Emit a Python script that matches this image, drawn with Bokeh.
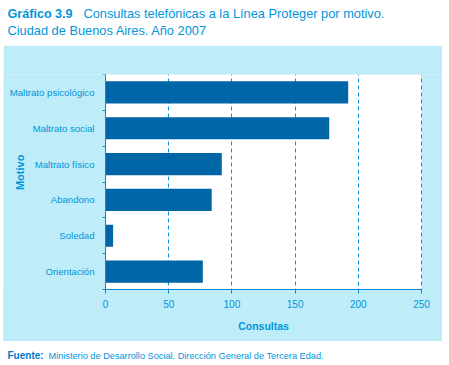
from bokeh.plotting import figure
from bokeh.models import (Range1d, FixedTicker, Label, ColumnDataSource,
                          BoxAnnotation, Grid)
from bokeh.core.properties import value
from bokeh.embed import file_html
from bokeh.resources import INLINE

# ---- data ----
motivos = ["Orientación", "Soledad", "Abandono", "Maltrato físico",
           "Maltrato social", "Maltrato psicológico"]
consultas = [77, 6, 84, 92, 177, 192]
x_ticks = [0, 50, 100, 150, 200, 250]
title_bold = "Gráfico 3.9"
title_rest = "Consultas telefónicas a la Línea Proteger por motivo."
title_line2 = "Ciudad de Buenos Aires. Año 2007"
source_bold = "Fuente:"
source_rest = "Ministerio de Desarrollo Social. Dirección General de Tercera Edad."

FONT = "Liberation Sans"
TXT = "#0096DB"
BAR = "#0066A8"
PANEL = "#BEECF8"
AXIS = "#0A8AD0"

W = 449


def text_fig(h):
    fg = figure(width=W, height=h, output_backend="svg", toolbar_location=None,
                x_range=Range1d(0, W), y_range=Range1d(h, 0),
                min_border=0, min_border_left=0, min_border_right=0,
                min_border_top=0, min_border_bottom=0)
    fg.axis.visible = False
    fg.grid.visible = False
    fg.outline_line_color = None
    fg.background_fill_color = "white"
    fg.border_fill_color = "white"
    return fg


# ---- title figure ----
TH = 45
t = text_fig(TH)
t.text(x=[7], y=[13], text=[title_bold], text_font=value(FONT),
       text_font_size="12.6px", text_font_style="bold", text_color=TXT,
       text_baseline="middle")
t.text(x=[83], y=[13], text=[title_rest], text_font=value(FONT),
       text_font_size="12.8px", text_color=TXT, text_baseline="middle")
t.text(x=[7], y=[30], text=[title_line2], text_font=value(FONT),
       text_font_size="12.8px", text_color=TXT, text_baseline="middle")

# ---- main panel ----
PH = 296
n = len(motivos)
ypos = [i + 0.5 for i in range(n)]
src = ColumnDataSource(dict(y=ypos, v=consultas, m=motivos))

XMAX = 250
X0 = 80.7   # room left of zero for the category labels (frame extends there)
XR = 16.6   # room right of the last value
Y0 = 1.451  # room below zero for the value axis and its title

p = figure(width=439, height=PH, output_backend="svg", toolbar_location=None,
           x_range=Range1d(-X0, XMAX + XR), y_range=Range1d(-Y0, n),
           min_border_left=0, min_border_right=0,
           min_border_top=29, min_border_bottom=0)
p.margin = (0, 0, 0, 3)
p.border_fill_color = PANEL
p.background_fill_color = PANEL
p.outline_line_color = None
p.xgrid.visible = False
p.ygrid.visible = False

# white plotting area
p.add_layout(BoxAnnotation(left=0, right=XMAX, bottom=0, top=n,
                           fill_color="white", fill_alpha=1,
                           line_color=None, level="underlay"))

# dashed vertical grid
p.add_layout(Grid(dimension=0, ticker=FixedTicker(ticks=x_ticks[1:]),
                  grid_line_color="#0A90E0", grid_line_dash="4 3",
                  grid_line_width=1))

# blue panel below the plotting area (hides the grid there)
p.add_layout(BoxAnnotation(left=-3 * X0, right=3 * XMAX, bottom=-3 * Y0, top=0,
                           fill_color=PANEL, fill_alpha=1,
                           line_color=None, level="underlay"))

p.hbar(y="y", right="v", left=0, height=0.62, source=src,
       fill_color=BAR, line_color=None)

# x axis at y = 0
p.xaxis.fixed_location = 0
p.xaxis.ticker = FixedTicker(ticks=x_ticks)
p.xaxis.bounds = (0, XMAX)
p.xaxis.axis_line_color = AXIS
p.xaxis.major_tick_line_color = AXIS
p.xaxis.major_tick_out = 4
p.xaxis.major_tick_in = 0
p.xaxis.minor_tick_line_color = None
p.xaxis.major_label_text_font = FONT
p.xaxis.major_label_text_font_size = "10px"
p.xaxis.major_label_text_color = TXT
p.xaxis.major_label_standoff = 6

# y axis at x = 0: labels at centers, ticks at boundaries
p.yaxis.fixed_location = 0
p.yaxis.bounds = (0, n)
p.yaxis.ticker = FixedTicker(ticks=ypos, minor_ticks=list(range(n + 1)))
p.yaxis.major_label_overrides = {yv: m for yv, m in zip(ypos, motivos)}
p.yaxis.axis_line_color = AXIS
p.yaxis.major_tick_line_color = None
p.yaxis.major_tick_out = 0
p.yaxis.major_tick_in = 0
p.yaxis.minor_tick_line_color = AXIS
p.yaxis.minor_tick_out = 3
p.yaxis.minor_tick_in = 0
p.yaxis.major_label_text_font = FONT
p.yaxis.major_label_text_font_size = "9.6px"
p.yaxis.major_label_text_color = TXT
p.yaxis.major_label_standoff = 8

# axis titles
p.add_layout(Label(x=XMAX / 2, y=-1.03, text="Consultas",
                   text_font=FONT, text_font_size="10.5px",
                   text_font_style="bold", text_color=TXT,
                   text_align="center", text_baseline="middle"))
p.add_layout(Label(x=-68, y=3.27, text="Motivo", angle=1.5708,
                   text_font=FONT, text_font_size="11px",
                   text_font_style="bold", text_color=TXT,
                   text_align="center", text_baseline="middle"))

# ---- footer ----
FH = 24
f = text_fig(FH)
f.text(x=[7], y=[14], text=[source_bold], text_font=value(FONT),
       text_font_size="10px", text_font_style="bold", text_color="#0077C8",
       text_baseline="middle")
f.text(x=[48], y=[14], text=[source_rest], text_font=value(FONT),
       text_font_size="9.2px", text_color=TXT, text_baseline="middle")

open("out.html", "w").write(file_html([t, p, f], INLINE))
